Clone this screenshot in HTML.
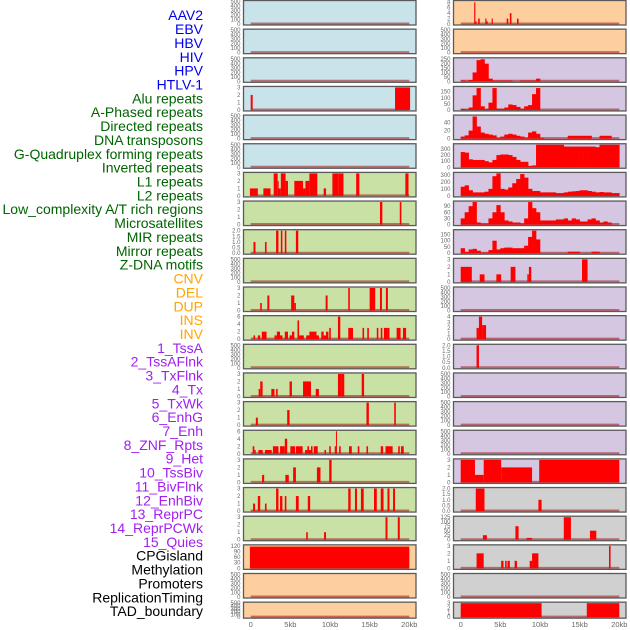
<!DOCTYPE html>
<html><head><meta charset="utf-8">
<style>
html,body{margin:0;padding:0;background:#fff;}
svg{display:block;font-family:"Liberation Sans",sans-serif;}
</style></head>
<body>
<svg id="chart" width="630" height="630" viewBox="0 0 630 630" xmlns="http://www.w3.org/2000/svg"></svg>
<script>
// ---- labels ----
const blueLabels=["AAV2","EBV","HBV","HIV","HPV","HTLV-1"];
const greenLabels=["Alu repeats","A-Phased repeats","Directed repeats","DNA transposons","G-Quadruplex forming repeats","Inverted repeats","L1 repeats","L2 repeats","Low_complexity A/T rich regions","Microsatellites","MIR repeats","Mirror repeats","Z-DNA motifs"];
const orangeLabels=["CNV","DEL","DUP","INS","INV"];
const purpleLabels=["1_TssA","2_TssAFlnk","3_TxFlnk","4_Tx","5_TxWk","6_EnhG","7_Enh","8_ZNF_Rpts","9_Het","10_TssBiv","11_BivFlnk","12_EnhBiv","13_ReprPC","14_ReprPCWk","15_Quies"];
const blackLabels=["CPGisland","Methylation","Promoters","ReplicationTiming","TAD_boundary"];
const xTicks=[0,5,10,15,20];
const xTickLabels=["0","5kb","10kb","15kb","20kb"];

// ---- left column bar data: [startKb, endKb, value] ----
const leftAluBars=[[0,0.25,2],[18.2,20.1,3]];
const leftL1Bars=[[-0.1,0.9,1],[1.6,2.5,1],[2.9,3.4,3],[3.4,3.5,2],[3.5,3.8,1],[3.8,4.4,3],[4.4,4.7,2],[5.5,6.6,2],[6.6,6.9,1],[6.9,7.4,2],[7.4,8.4,3],[9.2,9.5,1],[10.3,11.1,3],[11.1,11.7,3],[13.3,13.7,3],[19.5,19.9,3]];
const leftL2Bars=[[16.3,16.6,3],[18.8,19.0,3]];
const leftMIRBars=[[0.35,0.6,1],[1.8,2.0,1],[3.2,3.5,2],[3.8,4.0,2],[4.3,4.5,2],[5.7,6.0,2]];
const leftRow10Bars=[[1.2,1.4,1],[2.1,2.35,2],[5.1,5.5,2],[5.5,5.7,1],[9.45,9.7,2],[12.3,12.5,3],[15.0,15.7,3],[16.3,16.55,3],[17.05,17.3,3]];
const leftRow11Bars=[[0.35,0.55,1],[0.9,1.2,1],[1.4,2.0,2],[3.0,3.3,1],[3.3,3.7,2],[3.7,4.0,1],[4.3,4.7,2],[4.9,5.2,1],[5.2,5.5,2],[5.9,6.1,5],[6.1,6.7,1],[7.0,7.4,1],[7.4,8.3,2],[8.3,8.6,1],[8.9,9.2,2],[9.2,9.5,1],[9.5,9.8,2],[9.9,10.1,3],[11.0,11.3,6],[12.3,12.9,3],[14.1,14.3,3],[14.7,14.9,3],[15.9,16.1,3],[16.4,16.6,3],[16.8,17.2,3],[17.2,17.5,3],[18.4,18.9,3],[19.2,19.6,3]];
const leftRow13Bars=[[1.0,1.2,1],[1.2,1.5,2],[2.6,3.0,1],[3.2,3.4,1],[4.9,5.2,2],[6.6,7.6,2],[8.2,8.6,1],[11.0,11.4,3],[11.4,11.8,3],[14.0,14.3,3]];
const leftRow14Bars=[[0.65,0.9,1],[4.6,4.9,2],[14.6,14.9,3],[18.1,18.3,3]];
const leftRow15Bars=[[0.25,0.46,2],[0.46,0.63,1],[0.97,1.51,1],[1.8,2.65,1],[2.8,3.0,2],[3.0,3.5,2],[3.7,4.3,2],[4.3,4.6,4],[5.0,5.6,2],[5.7,6.55,2],[6.85,7.15,1],[7.15,7.35,2],[7.35,7.6,1],[7.6,7.8,2],[7.95,8.45,2],[9.3,9.5,1],[9.9,10.1,2],[10.6,10.75,2],[10.75,10.85,6],[11.15,11.35,2],[12.4,12.75,2],[13.5,13.7,2],[14.6,14.8,2],[16.4,16.7,2],[17.0,17.9,2],[18.6,18.8,2],[18.95,19.3,2]];
const leftRow16Bars=[[1.43,1.7,1],[4.37,4.8,1],[5.35,5.7,2],[8.35,8.8,2],[9.9,10.2,3]];
const leftRow17Bars=[[0.3,0.55,1],[0.9,1.2,2],[1.8,2.0,1],[3.2,3.5,3],[3.7,4.0,2],[4.3,4.5,2],[5.7,6.05,2],[7.2,7.5,2],[12.3,12.6,3],[13.15,13.4,3],[13.9,14.25,3],[15.55,15.9,3],[16.4,16.75,3],[17.25,17.5,3],[17.95,18.2,3]];
const leftRow18Bars=[[7.0,7.2,1],[9.25,9.5,1],[17.0,17.25,3],[18.55,18.8,3]];
const leftCpgBars=[[-0.1,20.0,116]];

// ---- right column data ----
const rightAAV2Bars=[[1.7,1.85,8],[1.85,2.0,1],[2.2,2.4,2],[3.1,3.25,2],[3.25,3.4,1],[3.9,4.05,2],[5.8,6.0,2],[6.2,6.4,4],[7.1,7.3,2]];
// histograms in 0.5kb bins from 0 to 20kb
const rightHIVBins=[10,5,15,100,240,250,200,30,8,8,8,8,8,0,0,8,8,8,8,30,0,0,0,0,0,0,0,0,0,0,0,0,0,0,0,0,0,0,0,0];
const rightAluBins=[8,5,20,120,180,30,8,60,180,10,10,20,45,40,25,10,30,40,130,180,0,0,0,0,0,0,0,0,0,0,0,0,0,0,0,0,0,0,0,0];
const rightAPhasedBins=[5,8,20,55,30,15,12,10,8,2,5,10,12,10,7,5,2,15,18,12,2,0,0,0,0,0,0,7,7,7,7,7,7,0,0,7,7,7,0,0];
const rightG4Bins=[250,240,130,120,120,120,100,80,120,200,210,210,200,170,120,90,90,20,30,370,370,370,370,370,370,370,340,340,340,340,340,340,340,340,330,370,370,370,370,370];
const rightL1Bins=[130,150,80,50,50,50,60,100,280,320,100,90,120,180,240,310,260,100,70,70,50,50,50,50,40,40,50,60,65,70,80,80,70,60,50,55,50,50,40,40];
const rightL2Bins=[30,60,90,110,10,5,5,30,60,95,60,20,15,10,10,5,30,110,80,60,20,20,20,20,25,25,30,20,30,25,15,15,25,30,20,10,15,10,0,0];
const rightMIRBins=[40,10,30,35,20,5,5,25,100,30,40,45,45,40,40,40,60,130,180,110,0,0,0,0,0,0,0,12,12,12,0,0,0,12,12,0,0,0,0,0];
const rightZDNABars=[[0,1.4,2],[2.4,3.0,1],[4.5,5.1,1],[6.3,6.9,2],[8.4,8.6,1],[8.6,8.9,2],[15.3,16.0,3]];
const rightRow11Bars=[[2.0,2.3,2],[2.3,2.7,4],[2.7,3.2,2.5]];
const rightRow12Bars=[[2.0,2.3,2]];
const rightRow16Bars=[[0,1.8,3],[1.8,2.9,1],[2.9,5.1,3],[5.1,9.0,2],[9.9,20,3]];
const rightRow17Bars=[[1.9,3.0,2],[9.8,10.2,1]];
const rightRow18Bars=[[2.8,3.3,25],[6.9,7.3,75],[8.3,9.0,10],[13.0,13.9,125],[16.3,17.1,50]];
const rightRow19Bars=[[2.0,2.9,2],[5.1,5.4,1],[5.6,5.8,1],[5.9,6.2,1],[6.8,7.1,1],[8.7,9.0,1],[9.0,9.8,2],[18.7,18.9,3]];
const rightTADBars=[[0,10.2,3],[15.9,20,3]];

// ---- tick sets ----
const ticksEmpty=[0,100,200,300,400,500];
const ticks3=[0,1,2,3];
const ticks2=[0,0.5,1,1.5,2];

const BG={blue:"#c8e3ea",green:"#c9e1a5",orange:"#fecf9e",purple:"#d5c6e2",grey:"#d0d0d0"};

const rows=[
 [{bg:"blue",ymax:500,ticks:ticksEmpty},{bg:"orange",ymax:8.3,ticks:[0,2,4,6,8],bars:rightAAV2Bars}],
 [{bg:"blue",ymax:500,ticks:ticksEmpty},{bg:"orange",ymax:500,ticks:ticksEmpty}],
 [{bg:"blue",ymax:500,ticks:ticksEmpty},{bg:"purple",ymax:255,ticks:[0,50,100,150,200,250],bins:rightHIVBins}],
 [{bg:"blue",ymax:3,ticks:ticks3,bars:leftAluBars},{bg:"purple",ymax:185,ticks:[0,50,100,150],bins:rightAluBins}],
 [{bg:"blue",ymax:500,ticks:ticksEmpty},{bg:"purple",ymax:56,ticks:[0,20,40],bins:rightAPhasedBins}],
 [{bg:"blue",ymax:500,ticks:ticksEmpty},{bg:"purple",ymax:370,ticks:[0,100,200,300],bins:rightG4Bins}],
 [{bg:"green",ymax:3,ticks:ticks3,bars:leftL1Bars},{bg:"purple",ymax:320,ticks:[0,100,200,300],bins:rightL1Bins}],
 [{bg:"green",ymax:3,ticks:ticks3,bars:leftL2Bars},{bg:"purple",ymax:110,ticks:[0,30,60,90],bins:rightL2Bins}],
 [{bg:"green",ymax:2,ticks:ticks2,bars:leftMIRBars},{bg:"purple",ymax:180,ticks:[0,50,100,150],bins:rightMIRBins}],
 [{bg:"green",ymax:500,ticks:ticksEmpty},{bg:"purple",ymax:3,ticks:ticks3,bars:rightZDNABars}],
 [{bg:"green",ymax:3,ticks:ticks3,bars:leftRow10Bars},{bg:"purple",ymax:500,ticks:ticksEmpty}],
 [{bg:"green",ymax:6,ticks:[0,2,4,6],bars:leftRow11Bars},{bg:"purple",ymax:4,ticks:[0,1,2,3,4],bars:rightRow11Bars}],
 [{bg:"green",ymax:500,ticks:ticksEmpty},{bg:"purple",ymax:2,ticks:ticks2,bars:rightRow12Bars}],
 [{bg:"green",ymax:3,ticks:ticks3,bars:leftRow13Bars},{bg:"purple",ymax:500,ticks:ticksEmpty}],
 [{bg:"green",ymax:3,ticks:ticks3,bars:leftRow14Bars},{bg:"purple",ymax:500,ticks:ticksEmpty}],
 [{bg:"green",ymax:6,ticks:[0,2,4,6],bars:leftRow15Bars},{bg:"purple",ymax:500,ticks:ticksEmpty}],
 [{bg:"green",ymax:3,ticks:ticks3,bars:leftRow16Bars},{bg:"purple",ymax:3,ticks:ticks3,bars:rightRow16Bars}],
 [{bg:"green",ymax:3,ticks:ticks3,bars:leftRow17Bars},{bg:"grey",ymax:2,ticks:ticks2,bars:rightRow17Bars}],
 [{bg:"green",ymax:3,ticks:ticks3,bars:leftRow18Bars},{bg:"grey",ymax:125,ticks:[0,25,50,75,100,125],bars:rightRow18Bars}],
 [{bg:"orange",ymax:120,ticks:[0,30,60,90,120],bars:leftCpgBars},{bg:"grey",ymax:3,ticks:ticks3,bars:rightRow19Bars}],
 [{bg:"orange",ymax:500,ticks:ticksEmpty},{bg:"grey",ymax:500,ticks:ticksEmpty}],
 [{bg:"orange",ymax:500,ticks:ticksEmpty},{bg:"grey",ymax:3,ticks:ticks3,bars:rightTADBars}]
];

const svg=document.getElementById("chart");
const NS="http://www.w3.org/2000/svg";
function mk(tag,attrs,parent){const e=document.createElementNS(NS,tag);for(const k in attrs)e.setAttribute(k,attrs[k]);(parent||svg).appendChild(e);return e;}

const groups=[[blueLabels,"#0000ee"],[greenLabels,"#006400"],[orangeLabels,"#ffa500"],[purpleLabels,"#a020f0"],[blackLabels,"#000000"]];
let li=0;
groups.forEach(([arr,col])=>{arr.forEach(t=>{
  const e=mk("text",{x:203,y:16.5+li*13.86,"text-anchor":"end","dominant-baseline":"middle","font-size":"14",fill:col});
  e.textContent=t;
  
  
  li++;});});

const cols=[{x0:243.5,x1:416,zero:250.7,twenty:409.3},{x0:453.5,x1:626,zero:460.7,twenty:619.3}];
function xs(c,kb){return c.zero+(c.twenty-c.zero)*kb/20;}
function fmt(v,ymax){return ymax===2?v.toFixed(1):String(v);}

rows.forEach((row,k)=>{
  const top=k*28.65+0.5;
  const h=(k===21)?16:24.5;
  row.forEach((spec,ci)=>{
    const c=cols[ci];
    const g=mk("g",{});
    
    
    const bgr=mk("rect",{x:c.x0,y:top,width:c.x1-c.x0,height:h,fill:BG[spec.bg]},g);
    
    
    const bot=top+h-1, usable=h-2;
    const ys=v=>bot-usable*Math.min(v,spec.ymax)/spec.ymax;
    const bl=mk("line",{x1:xs(c,0),x2:xs(c,20),y1:bot-0.5,y2:bot-0.5,stroke:"rgba(160,20,20,0.55)","stroke-width":2},g);
    
    
    if(spec.bars){spec.bars.forEach(b=>{
      const r=mk("rect",{x:xs(c,b[0]),y:ys(b[2]),width:Math.max(1,xs(c,b[1])-xs(c,b[0])),height:bot-ys(b[2]),fill:"#ff0000"},g);
      
      
    });}
    if(spec.bins){spec.bins.forEach((v,i)=>{
      if(v<=0)return;
      const r=mk("rect",{x:xs(c,i*0.5),y:ys(v),width:xs(c,(i+1)*0.5)-xs(c,i*0.5)+0.3,height:bot-ys(v),fill:"#ff0000"},g);
      
      
    });}
    const br=mk("rect",{x:c.x0,y:top,width:c.x1-c.x0,height:h,fill:"none",stroke:"#5a5a5a","stroke-width":1.3},g);
    
    
    spec.ticks.forEach(t=>{
      const tx=mk("text",{x:c.x0-3,y:ys(t)+2,"text-anchor":"end","font-size":"6",fill:"#6a6a6a"},g);
      tx.textContent=fmt(t,spec.ymax);
      
      
    });
  });
});

cols.forEach(c=>{
  xTicks.forEach((t,i)=>{
    const tx=mk("text",{x:xs(c,t),y:627,"text-anchor":"middle","font-size":"7.5",fill:"#666"});
    tx.textContent=xTickLabels[i];
    
    
  });
});
</script>
</body></html>
